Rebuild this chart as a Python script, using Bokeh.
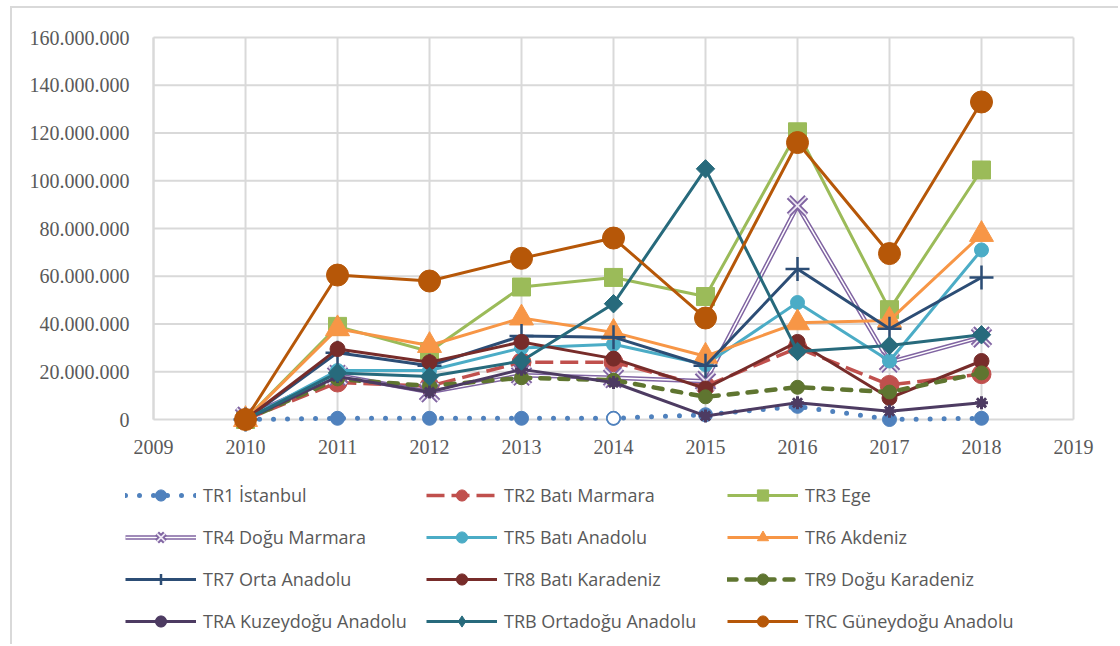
from bokeh.plotting import figure
from bokeh.models import Legend, LegendItem, FixedTicker, Range1d, LinearAxis
from bokeh.embed import file_html
from bokeh.resources import INLINE

# ---------------- data ----------------
years = [2010, 2011, 2012, 2013, 2014, 2015, 2016, 2017, 2018]
axis_years = [2009, 2010, 2011, 2012, 2013, 2014, 2015, 2016, 2017, 2018, 2019]
y_ticks = [0, 20000000, 40000000, 60000000, 80000000, 100000000, 120000000, 140000000, 160000000]
y_labels = ["0", "20.000.000", "40.000.000", "60.000.000", "80.000.000",
            "100.000.000", "120.000.000", "140.000.000", "160.000.000"]

tr1 = [0, 500000, 500000, 500000, 500000, 2000000, 5500000, 0, 500000]
tr2 = [0, 15500000, 14000000, 24000000, 24000000, 14000000, 30000000, 14500000, 19000000]
tr3 = [0, 39000000, 28500000, 55500000, 59500000, 51500000, 120500000, 46000000, 104500000]
tr4 = [1000000, 18500000, 11500000, 18500000, 17500000, 16000000, 89500000, 24000000, 34500000]
tr5 = [0, 20500000, 20500000, 30000000, 31500000, 23000000, 49000000, 24500000, 71000000]
tr6 = [0, 38000000, 31000000, 42500000, 36500000, 26500000, 40500000, 41500000, 77500000]
tr7 = [0, 28000000, 22500000, 35000000, 34500000, 22500000, 63000000, 38000000, 59500000]
tr8 = [0, 29500000, 24000000, 32500000, 25500000, 13000000, 32500000, 9000000, 24500000]
tr9 = [0, 17000000, 14000000, 17500000, 16500000, 9500000, 13500000, 11500000, 19500000]
tra = [0, 18000000, 11500000, 21000000, 15500000, 1500000, 7000000, 3500000, 7000000]
trb = [0, 19500000, 18000000, 24500000, 48500000, 105000000, 28500000, 31000000, 35500000]
trc = [0, 60500000, 58000000, 67500000, 76000000, 42500000, 116000000, 69500000, 133000000]

names = ["TR1 İstanbul", "TR2 Batı Marmara", "TR3 Ege", "TR4 Doğu Marmara", "TR5 Batı Anadolu",
         "TR6 Akdeniz", "TR7 Orta Anadolu", "TR8 Batı Karadeniz", "TR9 Doğu Karadeniz",
         "TRA Kuzeydoğu Anadolu", "TRB Ortadoğu Anadolu", "TRC Güneydoğu Anadolu"]

GRID = "#D9D9D9"
TXT = "#595959"

# The frame fills the whole figure; the ranges leave room for the axis labels and the legend.
p = figure(width=1108, height=638, output_backend="svg", toolbar_location=None,
           x_range=Range1d(2007.467, 2019.511), y_range=Range1d(-95080000, 172150000),
           x_axis_location=None, y_axis_location=None,
           min_border_left=0, min_border_right=0, min_border_top=0, min_border_bottom=0,
           background_fill_color="white", border_fill_color="white", outline_line_color=None,
           styles={"border-left": "2px solid #D9D9D9", "border-top": "2px solid #D9D9D9",
                   "margin-left": "10px", "margin-top": "6px"})
p.grid.visible = False

# grid lines limited to the plotting area
p.segment(x0=axis_years, y0=min(y_ticks), x1=axis_years, y1=max(y_ticks),
          line_color=GRID, line_width=2, level="underlay")
p.segment(x0=min(axis_years), y0=y_ticks, x1=max(axis_years), y1=y_ticks,
          line_color=GRID, line_width=2, level="underlay")

xaxis = LinearAxis(fixed_location=0, ticker=FixedTicker(ticks=axis_years),
                   bounds=(min(axis_years), max(axis_years)),
                   axis_line_color=None, major_tick_line_color=None, minor_tick_line_color=None,
                   major_label_standoff=14, major_label_text_font="Liberation Serif",
                   major_label_text_font_size="20px", major_label_text_color=TXT)
p.add_layout(xaxis, "below")

yaxis = LinearAxis(fixed_location=2009, ticker=FixedTicker(ticks=y_ticks),
                   major_label_overrides={t: lab for t, lab in zip(y_ticks, y_labels)},
                   bounds=(min(y_ticks), max(y_ticks)),
                   axis_line_color=GRID, axis_line_width=2,
                   major_tick_line_color=None, minor_tick_line_color=None,
                   major_label_standoff=18, major_label_text_font="Liberation Serif",
                   major_label_text_font_size="20px", major_label_text_color=TXT)
p.add_layout(yaxis, "left")

items = []
# TR1
c = "#4F81BD"
r1 = p.line(years, tr1, line_color=c, line_width=5, line_dash="0 14", line_cap="round")
r2 = p.scatter(years, tr1, marker="circle", size=14, fill_color=c, line_color=c)
p.scatter([years[4]], [tr1[4]], marker="circle", size=13, fill_color="white", line_color=c, line_width=1.5)
items.append(LegendItem(label=names[0], renderers=[r1, r2]))
# TR2
c = "#C0504D"
r1 = p.line(years, tr2, line_color=c, line_width=3.5, line_dash="18 7")
r2 = p.scatter(years, tr2, marker="circle", size=19, fill_color=c, line_color=c)
items.append(LegendItem(label=names[1], renderers=[r1, r2]))
# TR3
c = "#9BBB59"
r1 = p.line(years, tr3, line_color=c, line_width=3)
r2 = p.scatter(years, tr3, marker="square", size=18, fill_color=c, line_color=c)
items.append(LegendItem(label=names[2], renderers=[r1, r2]))
# TR4 (double line)
c = "#8064A2"
r1 = p.line(years, tr4, line_color=c, line_width=4.5)
r1b = p.line(years, tr4, line_color="white", line_width=1.5)
r2 = p.scatter(years, tr4, marker="x", size=25, line_color=c, line_width=5.5)
r2b = p.scatter(years, tr4, marker="x", size=25, line_color="#EDE8F3", line_width=1.8)
items.append(LegendItem(label=names[3], renderers=[r1, r1b, r2, r2b]))
# TR5
c = "#4BACC6"
r1 = p.line(years, tr5, line_color=c, line_width=3)
r2 = p.scatter(years, tr5, marker="circle", size=14, fill_color=c, line_color=c)
items.append(LegendItem(label=names[4], renderers=[r1, r2]))
# TR6
c = "#F79646"
r1 = p.line(years, tr6, line_color=c, line_width=3)
r2 = p.scatter(years, tr6, marker="triangle", size=24, fill_color=c, line_color=c)
items.append(LegendItem(label=names[5], renderers=[r1, r2]))
# TR7
c = "#2C4D75"
r1 = p.line(years, tr7, line_color=c, line_width=3)
r2 = p.scatter(years, tr7, marker="cross", size=24, line_color=c, line_width=2.5)
items.append(LegendItem(label=names[6], renderers=[r1, r2]))
# TR8
c = "#772C2A"
r1 = p.line(years, tr8, line_color=c, line_width=3)
r2 = p.scatter(years, tr8, marker="circle", size=15, fill_color=c, line_color=c)
items.append(LegendItem(label=names[7], renderers=[r1, r2]))
# TR9
c = "#5F7530"
r1 = p.line(years, tr9, line_color=c, line_width=4.5, line_dash="9 10", line_cap="round")
r2 = p.scatter(years, tr9, marker="circle", size=14, fill_color=c, line_color=c)
items.append(LegendItem(label=names[8], renderers=[r1, r2]))
# TRA
c = "#4D3B62"
r1 = p.line(years, tra, line_color=c, line_width=3)
r2 = p.scatter(years, tra, marker="asterisk", size=13, line_color=c, line_width=3)
r2b = p.scatter(years, tra, marker="circle", size=8, fill_color=c, line_color=c)
items.append(LegendItem(label=names[9], renderers=[r1, r2, r2b]))
# TRB
c = "#276A7C"
r1 = p.line(years, trb, line_color=c, line_width=3)
p.scatter(years, trb, marker="square", angle=0.7853981634, size=13, fill_color=c, line_color=c)
r2 = p.scatter(years, trb, marker="diamond", size=0, fill_color=c, line_color=c)
items.append(LegendItem(label=names[10], renderers=[r1, r2]))
# TRC
c = "#B65708"
r1 = p.line(years, trc, line_color=c, line_width=3)
r2 = p.scatter(years, trc, marker="circle", size=22, fill_color=c, line_color=c)
items.append(LegendItem(label=names[11], renderers=[r1, r2]))

legend = Legend(items=items, ncols=3, orientation="horizontal", location=(113, 6),
                glyph_width=71, glyph_height=28, label_width=220, label_height=39,
                label_standoff=7, spacing=3, padding=0, margin=0,
                border_line_alpha=0, background_fill_alpha=0,
                label_text_font="Open Sans", label_text_font_size="18px",
                label_text_color=TXT)
p.add_layout(legend, "center")

open("out.html", "w").write(file_html(p, INLINE))
